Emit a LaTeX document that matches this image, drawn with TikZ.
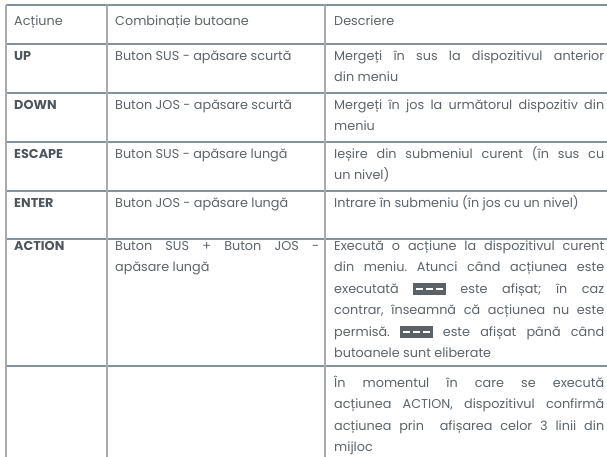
\documentclass[tikz,border=0pt]{standalone}
\usepackage{fontspec}
\setmainfont{Poppins}
\frenchspacing
\definecolor{txtc}{HTML}{5C636A}
\definecolor{boldc}{HTML}{4E565D}
\definecolor{vline}{HTML}{A6ABB0}
\definecolor{hline}{HTML}{87919A}
\definecolor{iconbg}{HTML}{5A6168}
\newcommand{\dashicon}{{\setlength{\fboxsep}{0pt}\colorbox{iconbg}{\rule[-2pt]{0pt}{12.5pt}\hspace{3pt}\textcolor{white}{\rule[3.4pt]{6.5pt}{1.8pt}}\hspace{3.5pt}\textcolor{white}{\rule[3.4pt]{6.5pt}{1.8pt}}\hspace{3.5pt}\textcolor{white}{\rule[3.4pt]{6.5pt}{1.8pt}}\hspace{3pt}}}}
\newcommand{\jl}[1]{\makebox[270pt][s]{#1}}
\newcommand{\jm}[1]{\makebox[204pt][s]{#1}}
\tikzset{
  txt/.style={inner sep=0pt, anchor=base west, text=txtc, font=\fontsize{12.8}{16}\selectfont},
  lbl/.style={txt, text=boldc, font=\fontsize{12.8}{16}\selectfont\bfseries},
  vrule/.style={draw=vline, line width=1.3pt},
  hrule/.style={draw=hline, line width=1.1pt}
}
\begin{document}
\begin{tikzpicture}[x=1pt,y=-1pt]
\useasboundingbox (0,0) rectangle (607,456);
\clip (0,0) rectangle (607,456);
% grid
\foreach \yy/\nm in {5/r0,44/r1,93/r2,142/r3,191/r4,239/r5,366/r6}{
  \coordinate (\nm w) at (6,\yy);
  \coordinate (\nm e) at (612,\yy);
  \draw[hrule] (\nm w) -- (\nm e);
}
\foreach \xx/\nm in {6/c0,107/c1,325/c2}{
  \coordinate (\nm n) at (\xx,5);
  \coordinate (\nm s) at (\xx,470);
  \draw[vrule] (\nm n) -- (\nm s);
}
% header
\node[txt] (h1) at (14,25) {Acțiune};
\node[txt] (h2) at (115,25) {Combinație butoane};
\node[txt] (h3) at (334,25) {Descriere};
% UP
\node[lbl] (l1) at (14,60) {UP};
\node[txt] (b1) at (115,60) {Buton SUS - apăsare scurtă};
\node[txt] (d1a) at (334,60) {\jl{Mergeți în sus la dispozitivul anterior}};
\node[txt] (d1b) at (334,81.5) {din meniu};
% DOWN
\node[lbl] (l2) at (14,109) {DOWN};
\node[txt] (b2) at (115,109) {Buton JOS - apăsare scurtă};
\node[txt] (d2a) at (334,109) {\jl{Mergeți în jos la următorul dispozitiv din}};
\node[txt] (d2b) at (334,130.5) {meniu};
% ESCAPE
\node[lbl] (l3) at (14,158) {ESCAPE};
\node[txt] (b3) at (115,158) {Buton SUS - apăsare lungă};
\node[txt] (d3a) at (334,158) {\jl{Ieșire din submeniul curent (în sus cu}};
\node[txt] (d3b) at (334,179.5) {un nivel)};
% ENTER
\node[lbl] (l4) at (14,207) {ENTER};
\node[txt] (b4) at (115,207) {Buton JOS - apăsare lungă};
\node[txt] (d4a) at (334,207) {Intrare în submeniu (în jos cu un nivel)};
% ACTION
\node[lbl] (l5) at (14,250) {ACTION};
\node[txt] (b5a) at (115,250) {\jm{Buton SUS + Buton JOS -}};
\node[txt] (b5b) at (115,271.5) {apăsare lungă};
\node[txt] (d5a) at (334,250) {\jl{Execută o acțiune la dispozitivul curent}};
\node[txt] (d5b) at (334,271.5) {\jl{din meniu. Atunci când acțiunea este}};
\node[txt] (d5c) at (334,293) {\jl{executată \dashicon{} este afișat; în caz}};
\node[txt] (d5d) at (334,314.5) {\jl{contrar, înseamnă că acțiunea nu este}};
\node[txt] (d5e) at (334,336) {\jl{permisă. \dashicon{} este afișat până când}};
\node[txt] (d5f) at (334,357.5) {butoanele sunt eliberate};
% last
\node[txt] (d6a) at (334,387) {\jl{În momentul în care se execută}};
\node[txt] (d6b) at (334,408.5) {\jl{acțiunea ACTION, dispozitivul confirmă}};
\node[txt] (d6c) at (334,430) {\jl{acțiunea prin \ afișarea celor 3 linii din}};
\node[txt] (d6d) at (334,451.5) {mijloc};
\end{tikzpicture}
\end{document}
